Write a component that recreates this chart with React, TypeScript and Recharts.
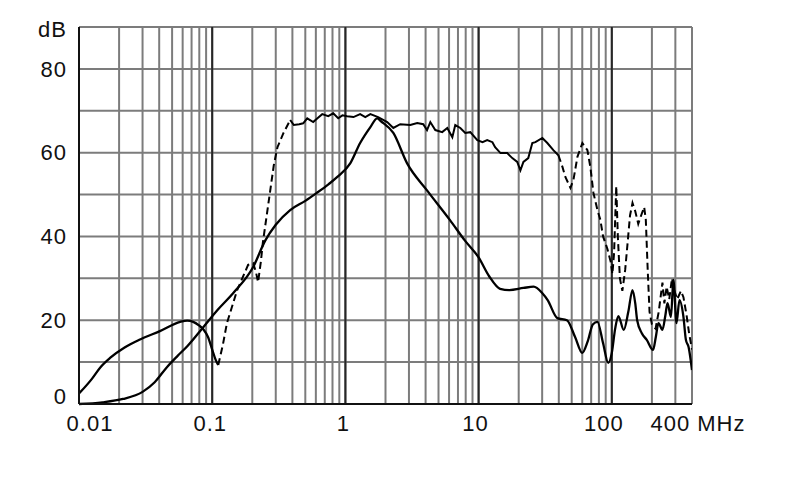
import { CartesianGrid, Line, LineChart, ReferenceLine, XAxis, YAxis } from 'recharts';

// log frequency grid, MHz
const decades = [0.01, 0.1, 1, 10, 100];
const steps = [1, 2, 3, 4, 5, 6, 7, 8, 9];
const lastSteps = [1, 2, 3, 4];
const xLabelValues = [0.01, 0.1, 1, 10, 100, 400];
const xLabelTexts = ['0.01', '0.1', '1', '10', '100', '400 MHz'];
const yTicks = [0, 10, 20, 30, 40, 50, 60, 70, 80, 90];
const yLabelTexts = ['0', '', '20', '', '40', '', '60', '', '80', 'dB'];

// curve with the dip at 0.11 MHz: solid start, dashed rise, noisy plateau, dashed tail
const aStart: [number, number][] = [
  [0.01, 2.5], [0.0125, 6], [0.0145, 8.8], [0.0171, 11], [0.022, 13.5], [0.0287, 15.4],
  [0.0405, 17.4], [0.0575, 19.6], [0.065, 19.9], [0.072, 19.6], [0.08, 18.7], [0.086, 17.8],
  [0.093, 16], [0.1, 13], [0.106, 10.6], [0.111, 9.3],
];
const aRise: [number, number][] = [
  [0.111, 9.3], [0.12, 14], [0.129, 19.3], [0.154, 27.2], [0.186, 33.2], [0.203, 33.6],
  [0.213, 31.5], [0.221, 29.1], [0.232, 34], [0.24, 38.5], [0.27, 50], [0.29, 57],
  [0.309, 61.3], [0.343, 64.7], [0.385, 67.8],
];
const aPlateau: [number, number][] = [
  [0.385, 67.8], [0.41, 66.6], [0.45, 66.8], [0.482, 67], [0.517, 68.2], [0.573, 67.3],
  [0.62, 68.3], [0.67, 69.2], [0.743, 68.7], [0.81, 69.4], [0.883, 68.2], [0.95, 68.9],
  [1.03, 68.7], [1.15, 68.5], [1.29, 69.2], [1.41, 68.5], [1.54, 69.2], [1.76, 68.5],
  [2.06, 67.3], [2.29, 65.9], [2.58, 66.8], [3.07, 66.6], [3.46, 67.1], [3.84, 66.8],
  [4.1, 65.4], [4.34, 67.3], [4.73, 65.4], [5.33, 64.9], [5.82, 65.9], [6.35, 63.7],
  [6.68, 66.6], [7.29, 65.9], [7.94, 64.7], [8.66, 64.9], [9.78, 63], [10.7, 62.5],
  [11.6, 63], [12.7, 62.5], [13.3, 61.3], [14.6, 59.9], [16.4, 59.9], [17.9, 58.7],
  [19.5, 57.8], [20.6, 55.8], [21.7, 57.8], [23.6, 58.7], [25.3, 62.3], [26.7, 62.5],
  [30.1, 63.5], [32.8, 62.3], [36.4, 60.6], [39.7, 59.4],
];
const aTail: [number, number][] = [
  [39.7, 59.4], [42.6, 56.6], [44.8, 54.2], [48.9, 51.6], [51.5, 53.5], [55.2, 59],
  [60.1, 62.3], [65.6, 60.6], [69, 56.6], [72.8, 50.4], [78, 46.3], [82, 44], [86, 40],
  [92.7, 37], [98, 34], [101, 31], [104, 36], [108, 52], [111, 40], [115, 30], [120, 27],
  [126, 32], [131, 38], [137, 45], [143, 48], [150, 46], [158, 43], [166, 45], [175, 47],
  [180, 44], [186, 32], [192, 22], [200, 19], [213, 18], [225, 22], [240, 29], [248, 24],
  [258, 28], [270, 25], [283, 30], [295, 27], [310, 25], [330, 27], [345, 25.5],
  [365, 21], [380, 17], [400, 13],
];

// curve peaking near 1.8 MHz
const bCurve: [number, number][] = [
  [0.01, 0], [0.015, 0.4], [0.0214, 1.2], [0.03, 2.9], [0.037, 5.2], [0.0457, 8.8],
  [0.055, 11.5], [0.065, 13.8], [0.086, 18.4], [0.11, 22.5], [0.144, 26.5], [0.203, 32.7],
  [0.25, 39], [0.3, 42.8], [0.385, 46.3], [0.5, 48.5], [0.61, 50.4], [0.75, 52.5],
  [0.87, 54.2], [1.09, 57.5], [1.29, 62.3], [1.54, 66.1], [1.73, 68.2], [1.85, 67.5],
  [2.29, 64.7], [2.9, 57.5], [4.1, 51], [6.1, 43.9], [7.9, 39], [10, 35], [12, 30.5],
  [14.5, 27.5], [17, 27.2], [21.7, 27.7], [25.9, 28], [30, 26.5], [33, 24.8], [39, 20.5],
  [46, 20], [53, 16], [60, 12.2], [66, 15], [72, 19], [78, 19.6], [86, 14.5], [94, 9.8],
  [100, 12.2], [106, 18], [112, 21], [123, 17.7], [133, 22], [143, 27.2], [150, 24],
  [155, 20], [168, 16.9], [183, 15.3], [204, 12.9], [214, 16], [224, 19.3], [240, 17.7],
  [252, 21], [262, 24.1], [278, 20.8], [290, 29.6], [306, 19.3], [322, 24.8], [345, 20.8],
  [360, 15.3], [377, 13.6], [400, 8.1],
];

const toRows = (pts: [number, number][]) => pts.map(([f, db]) => ({ f, db }));

const gridX = decades.flatMap((d) =>
  (d === 100 ? lastSteps : steps).map((s) => Number((d * s).toPrecision(6)))
);

const FONT = '"Liberation Sans", Arial, sans-serif';
const labelShift: Record<string, number> = {
  '0.01': 11, '0.1': -2, '1': -2, '10': -3, '100': -8, '400 MHz': 6,
};

function FreqTick({ x, y, payload }: any) {
  const i = xLabelValues.findIndex((v) => Math.abs(v - payload.value) / v < 1e-6);
  if (i < 0) return <g />;
  const text = xLabelTexts[i];
  return (
    <text
      x={x + labelShift[text]}
      y={y + 3}
      dy="0.71em"
      textAnchor="middle"
      fontFamily={FONT}
      fontSize={22}
      letterSpacing={1}
      fill="#111"
    >
      {text}
    </text>
  );
}

function DbTick({ x, y, payload }: any) {
  const text = yLabelTexts[yTicks.indexOf(payload.value)];
  if (!text) return <g />;
  const dy = text === '0' ? -8 : text === 'dB' ? 2 : 0;
  return (
    <text
      x={x - 4}
      y={y + dy}
      dy="0.355em"
      textAnchor="end"
      fontFamily={FONT}
      fontSize={22}
      letterSpacing={1}
      fill="#111"
    >
      {text}
    </text>
  );
}

export default function App() {
  return (
    <div style={{ position: 'absolute', left: 0, top: 0, width: 790, height: 499, background: '#fff' }}>
      <LineChart width={790} height={499} margin={{ top: 27, right: 98, bottom: 55, left: 0 }}>
        <CartesianGrid stroke="#7c7c7c" strokeWidth={2} />
        <XAxis
          type="number"
          dataKey="f"
          scale="log"
          domain={[0.01, 400]}
          allowDataOverflow
          ticks={gridX}
          interval={0}
          tick={<FreqTick />}
          tickLine={false}
          axisLine={{ stroke: '#111', strokeWidth: 2 }}
          height={40}
        />
        <YAxis
          type="number"
          domain={[0, 90]}
          ticks={yTicks}
          interval={0}
          tick={<DbTick />}
          tickLine={false}
          axisLine={{ stroke: '#111', strokeWidth: 2 }}
          width={79}
        />
        {decades.slice(1).map((d) => (
          <ReferenceLine key={d} x={d} stroke="#262626" strokeWidth={2} />
        ))}
        <Line data={toRows(bCurve)} dataKey="db" type="monotone" stroke="#000" strokeWidth={2.3} dot={false} isAnimationActive={false} />
        <Line data={toRows(aStart)} dataKey="db" type="monotone" stroke="#000" strokeWidth={2.3} dot={false} isAnimationActive={false} />
        <Line data={toRows(aRise)} dataKey="db" type="linear" stroke="#000" strokeWidth={2} strokeDasharray="7 4" dot={false} isAnimationActive={false} />
        <Line data={toRows(aPlateau)} dataKey="db" type="linear" stroke="#000" strokeWidth={2} dot={false} isAnimationActive={false} />
        <Line data={toRows(aTail)} dataKey="db" type="linear" stroke="#000" strokeWidth={2} strokeDasharray="7 4" dot={false} isAnimationActive={false} />
      </LineChart>
    </div>
  );
}
